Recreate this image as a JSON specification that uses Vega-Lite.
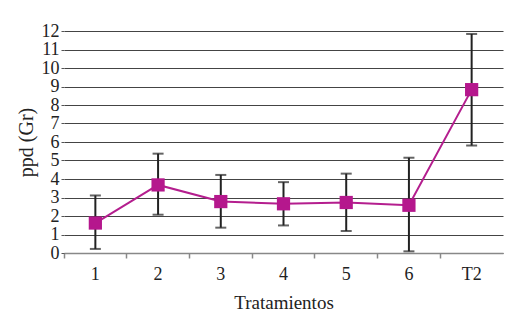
{
  "$schema": "https://vega.github.io/schema/vega-lite/v6.json",
  "width": 439,
  "height": 222,
  "autosize": {"type": "none"},
  "padding": {"left": 64, "top": 31, "right": 10, "bottom": 75},
  "background": "white",
  "config": {
    "view": {"stroke": null},
    "font": "Liberation Serif"
  },
  "data": {
    "values": [
      {"tratamiento": "1", "media": 1.62, "inferior": 0.22, "superior": 3.11},
      {"tratamiento": "2", "media": 3.68, "inferior": 2.07, "superior": 5.37},
      {"tratamiento": "3", "media": 2.78, "inferior": 1.37, "superior": 4.22},
      {"tratamiento": "4", "media": 2.66, "inferior": 1.49, "superior": 3.83},
      {"tratamiento": "5", "media": 2.73, "inferior": 1.19, "superior": 4.29},
      {"tratamiento": "6", "media": 2.58, "inferior": 0.09, "superior": 5.15},
      {"tratamiento": "T2", "media": 8.83, "inferior": 5.81, "superior": 11.84}
    ]
  },
  "resolve": {"axis": {"y": "shared"}},
  "encoding": {
    "x": {
      "field": "tratamiento",
      "type": "ordinal",
      "sort": null,
      "scale": {"type": "band", "paddingInner": 0, "paddingOuter": 0},
      "axis": {
        "title": "Tratamientos",
        "titleFont": "Liberation Serif",
        "titleFontSize": 19,
        "titleFontWeight": "normal",
        "titleColor": "#222",
        "titlePadding": 10,
        "labelFont": "Liberation Serif",
        "labelFontSize": 18,
        "labelColor": "#222",
        "labelAngle": 0,
        "labelPadding": 7,
        "bandPosition": 0,
        "ticks": true,
        "tickSize": 5,
        "tickColor": "#888",
        "tickWidth": 1.5,
        "domainColor": "#888",
        "domainWidth": 1.5,
        "grid": false
      }
    },
    "y": {
      "field": "media",
      "type": "quantitative",
      "scale": {"domain": [0, 12], "nice": false},
      "axis": {
        "title": "ppd (Gr)",
        "titleFont": "Liberation Serif",
        "titleFontSize": 20,
        "titleFontWeight": "normal",
        "titleColor": "#222",
        "titlePadding": 5,
        "labelFont": "Liberation Serif",
        "labelFontSize": 18,
        "labelColor": "#222",
        "labelPadding": 2,
        "labelOverlap": false,
        "values": [0, 1, 2, 3, 4, 5, 6, 7, 8, 9, 10, 11, 12],
        "domain": false,
        "ticks": true,
        "tickSize": 3,
        "tickColor": "#555",
        "grid": true,
        "gridColor": "#444",
        "gridWidth": 1.2,
        "gridOpacity": 1
      }
    }
  },
  "layer": [
    {
      "mark": {"type": "rule", "color": "#222", "strokeWidth": 2},
      "encoding": {
        "y": {"field": "inferior", "type": "quantitative", "axis": {"title": "ppd (Gr)", "values": [0, 1, 2, 3, 4, 5, 6, 7, 8, 9, 10, 11, 12], "labelOverlap": false}},
        "y2": {"field": "superior"}
      }
    },
    {
      "mark": {"type": "tick", "color": "#222", "thickness": 2, "size": 11},
      "encoding": {"y": {"field": "superior", "type": "quantitative", "axis": {"title": "ppd (Gr)", "values": [0, 1, 2, 3, 4, 5, 6, 7, 8, 9, 10, 11, 12], "labelOverlap": false}}}
    },
    {
      "mark": {"type": "tick", "color": "#222", "thickness": 2, "size": 11},
      "encoding": {"y": {"field": "inferior", "type": "quantitative", "axis": {"title": "ppd (Gr)", "values": [0, 1, 2, 3, 4, 5, 6, 7, 8, 9, 10, 11, 12], "labelOverlap": false}}}
    },
    {
      "mark": {"type": "line", "color": "#B41E8E", "strokeWidth": 2}
    },
    {
      "mark": {"type": "point", "shape": "square", "filled": true, "color": "#B5178D", "size": 175, "opacity": 1}
    }
  ]
}
